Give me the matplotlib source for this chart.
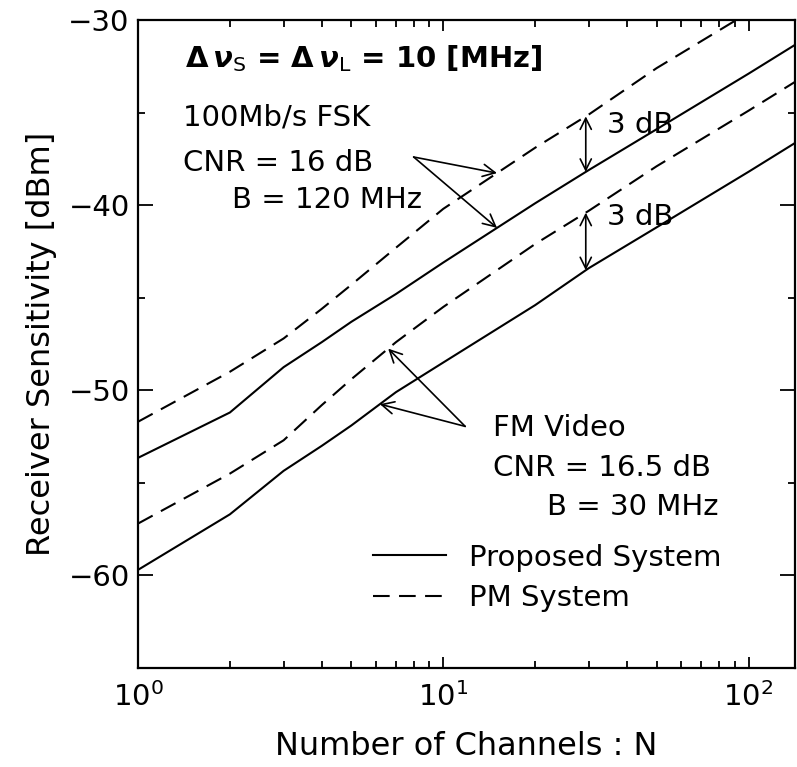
import numpy as np
import matplotlib
matplotlib.use("Agg")
import matplotlib.pyplot as plt
from matplotlib.ticker import LogLocator, MultipleLocator, NullFormatter

plt.rcParams['font.family'] = ['DejaVu Sans']
plt.rcParams['mathtext.fontset'] = 'dejavusans'

# Receiver sensitivity [dBm] versus number of channels N
channels = [1, 2, 3, 4, 5, 7, 10, 20, 30, 50, 100, 150]
fsk_proposed = [-53.65, -51.2, -48.75, -47.4, -46.3, -44.8, -43.1, -39.9, -38.1, -35.9, -32.9, -31.1]
fsk_pm = [-51.7, -49.0, -47.2, -45.6, -44.3, -42.3, -40.2, -36.9, -35.1, -32.6, -29.6, -27.8]
video_proposed = [-59.7, -56.7, -54.35, -53.0, -51.9, -50.1, -48.5, -45.4, -43.4, -41.2, -38.2, -36.4]
video_pm = [-57.2, -54.5, -52.7, -50.8, -49.4, -47.4, -45.5, -42.1, -40.3, -37.9, -34.9, -33.1]

x_ticks = [1, 10, 100]
y_ticks = [-60, -50, -40, -30]


def on_curve(n, values):
    return float(np.interp(np.log10(n), np.log10(channels), values))


fig = plt.figure(figsize=(7.97, 7.67), dpi=100)
ax = fig.add_axes([138 / 797, 1 - 668 / 767, 657 / 797, 648 / 767])

dash = (0, (8, 4.5))
lw = 1.5
ax.plot(channels, fsk_proposed, color='black', lw=lw, label='Proposed System')
ax.plot(channels, fsk_pm, color='black', lw=lw, linestyle=dash, label='PM System')
ax.plot(channels, video_proposed, color='black', lw=lw, label='_nolegend_')
ax.plot(channels, video_pm, color='black', lw=lw, linestyle=dash, label='_nolegend_')

ax.set_xscale('log')
ax.set_xlim(1, 142)
ax.set_ylim(-65, -30)
ax.set_xticks(x_ticks)
ax.xaxis.set_minor_locator(LogLocator(base=10, subs=np.arange(2, 10)))
ax.xaxis.set_minor_formatter(NullFormatter())
ax.set_yticks(y_ticks)
ax.yaxis.set_minor_locator(MultipleLocator(5))

for s in ax.spines.values():
    s.set_linewidth(1.6)
ax.tick_params(which='both', direction='in', top=True, right=True, width=1.3,
               labelsize=21)
ax.tick_params(axis='y', which='major', length=11, pad=6)
ax.tick_params(axis='y', which='minor', length=5)
ax.tick_params(axis='x', which='major', length=8, pad=10)
ax.tick_params(axis='x', which='minor', length=5)

ax.set_xlabel('Number of Channels : N', fontsize=23, labelpad=14)
ax.set_ylabel('Receiver Sensitivity [dBm]', fontsize=23, labelpad=8)

fs = 21
ax.text(0.0715, 0.941,
        r'$\mathbf{\Delta}\,\mathbfit{\nu}_{\mathrm{S}}$ = '
        r'$\mathbf{\Delta}\,\mathbfit{\nu}_{\mathrm{L}}$ = 10 [MHz]',
        transform=ax.transAxes, fontsize=fs, fontweight='bold', va='center')

ax.text(0.0685, 0.849, '100Mb/s FSK', transform=ax.transAxes, fontsize=fs, va='center')
ax.text(0.0685, 0.779, 'CNR = 16 dB', transform=ax.transAxes, fontsize=fs, va='center')
ax.text(0.143, 0.722, 'B = 120 MHz', transform=ax.transAxes, fontsize=fs, va='center')

ax.text(0.540, 0.370, 'FM Video', transform=ax.transAxes, fontsize=fs, va='center')
ax.text(0.540, 0.309, 'CNR = 16.5 dB', transform=ax.transAxes, fontsize=fs, va='center')
ax.text(0.6225, 0.248, 'B = 30 MHz', transform=ax.transAxes, fontsize=fs, va='center')

arrow = dict(arrowstyle='->', color='black', lw=1.2, mutation_scale=22,
             shrinkA=0, shrinkB=0)

# labels pointing at the FSK curves
fsk_tail = (8.0, -37.4)
for n, ys in ((15.0, fsk_pm), (15.0, fsk_proposed)):
    ax.annotate('', xy=(n, on_curve(n, ys)), xytext=fsk_tail, arrowprops=arrow)

# labels pointing at the video curves
video_tail = (11.8, -51.95)
for n, ys in ((6.6, video_pm), (6.2, video_proposed)):
    ax.annotate('', xy=(n, on_curve(n, ys)), xytext=video_tail, arrowprops=arrow)

# 3 dB gaps between PM and proposed systems
gap_n = 29.3
double = dict(arrowstyle='<->', color='black', lw=1.2, mutation_scale=20,
              shrinkA=0, shrinkB=0)
ax.annotate('', xy=(gap_n, on_curve(gap_n, fsk_pm)),
            xytext=(gap_n, on_curve(gap_n, fsk_proposed)), arrowprops=double)
ax.annotate('', xy=(gap_n, on_curve(gap_n, video_pm)),
            xytext=(gap_n, on_curve(gap_n, video_proposed)), arrowprops=double)
ax.text(0.714, 0.838, '3 dB', transform=ax.transAxes, fontsize=fs, va='center')
ax.text(0.714, 0.696, '3 dB', transform=ax.transAxes, fontsize=fs, va='center')

ax.legend(loc='upper left', bbox_to_anchor=(0.358, 0.192), frameon=False,
          fontsize=fs, handlelength=2.5, handletextpad=0.8, labelspacing=0.42,
          borderpad=0, borderaxespad=0)

fig.savefig('out.png', dpi=100)
